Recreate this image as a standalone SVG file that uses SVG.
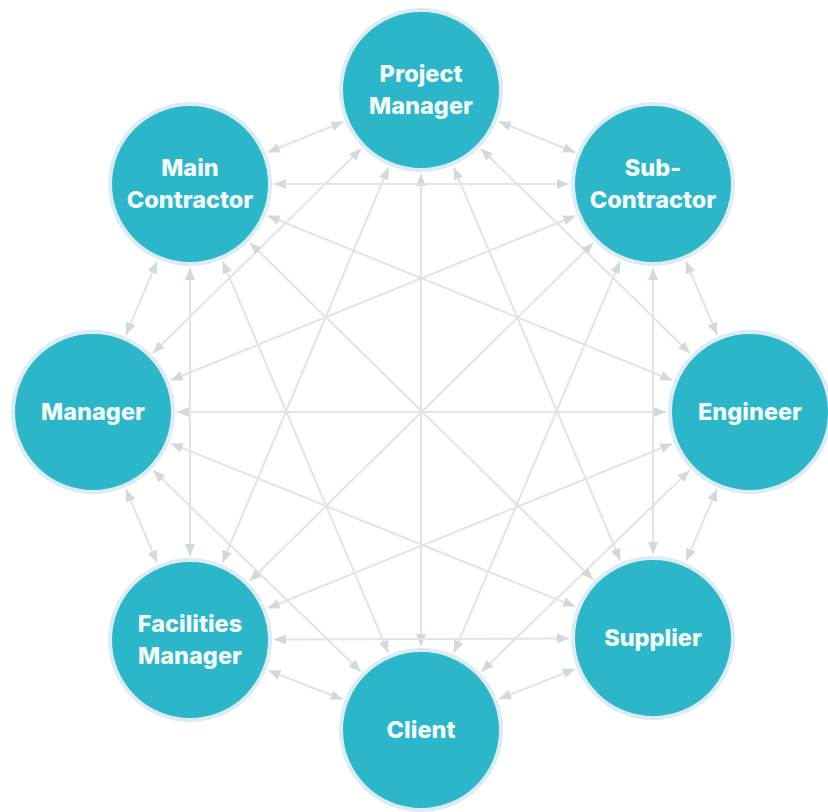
<svg xmlns="http://www.w3.org/2000/svg" width="828" height="812" viewBox="0 0 828 812">
<style>
.edge{stroke:#e0e3e9;stroke-width:2;fill:none;marker-start:url(#ah);marker-end:url(#ah)}
.node circle{fill:#2cb6ca;stroke:#dcecf2;stroke-width:4}
.node text{font-family:Inter,"Liberation Sans",sans-serif;font-weight:800;font-size:23.5px;fill:#f2fcfd;text-anchor:middle}
</style>
<defs>
<marker id="ah" viewBox="0 0 12 10" refX="12" refY="5" markerWidth="12" markerHeight="10" markerUnits="userSpaceOnUse" orient="auto-start-reverse">
<path d="M0,0 L12,5 L0,10 z" fill="#d3d7de"/>
</marker>
</defs>
<rect width="828" height="812" fill="#ffffff"/>
<g id="connectors">
<line class="edge" x1="498.9" y1="121.5" x2="575.1" y2="152.5"/>
<line class="edge" x1="481" y1="148.7" x2="690" y2="353.3"/>
<line class="edge" x1="453.7" y1="167.4" x2="620.3" y2="560.6"/>
<line class="edge" x1="421" y1="174" x2="421" y2="646"/>
<line class="edge" x1="388.5" y1="167.5" x2="222.5" y2="562.5"/>
<line class="edge" x1="361.1" y1="148.9" x2="152.9" y2="353.1"/>
<line class="edge" x1="343.2" y1="121.7" x2="267.8" y2="152.3"/>
<line class="edge" x1="685.9" y1="261.3" x2="717.1" y2="334.7"/>
<line class="edge" x1="653" y1="268" x2="653" y2="554"/>
<line class="edge" x1="620.1" y1="261.3" x2="453.9" y2="652.7"/>
<line class="edge" x1="593.2" y1="242.9" x2="249.8" y2="581.1"/>
<line class="edge" x1="575.2" y1="215.7" x2="170.8" y2="380.3"/>
<line class="edge" x1="569" y1="184" x2="274" y2="184"/>
<line class="edge" x1="716.9" y1="489.2" x2="686.1" y2="560.8"/>
<line class="edge" x1="689.6" y1="470.4" x2="481.4" y2="671.6"/>
<line class="edge" x1="672.2" y1="443.7" x2="267.8" y2="608.3"/>
<line class="edge" x1="666" y1="412" x2="177" y2="412"/>
<line class="edge" x1="672.2" y1="380.3" x2="267.8" y2="215.7"/>
<line class="edge" x1="574.9" y1="669" x2="499.1" y2="699"/>
<line class="edge" x1="569" y1="638.4" x2="274" y2="639.6"/>
<line class="edge" x1="575.1" y1="606.6" x2="170.9" y2="443.4"/>
<line class="edge" x1="593" y1="579.2" x2="250" y2="242.8"/>
<line class="edge" x1="342.7" y1="699.5" x2="268.3" y2="670.5"/>
<line class="edge" x1="360.7" y1="671.5" x2="153.3" y2="470.5"/>
<line class="edge" x1="388.3" y1="652.6" x2="222.7" y2="261.4"/>
<line class="edge" x1="157.1" y1="562.7" x2="125.9" y2="489.3"/>
<line class="edge" x1="190" y1="556" x2="190" y2="268"/>
<line class="edge" x1="125.9" y1="334.7" x2="157.1" y2="261.3"/>
</g>
<g id="project-manager" class="node"><circle cx="421" cy="90" r="80"/><text x="421" y="82">Project</text><text x="421" y="114">Manager</text></g>
<g id="sub-contractor" class="node"><circle cx="653" cy="184" r="80"/><text x="653" y="176">Sub-</text><text x="653" y="208">Contractor</text></g>
<g id="engineer" class="node"><circle cx="750" cy="412" r="80"/><text x="750" y="420">Engineer</text></g>
<g id="supplier" class="node"><circle cx="653" cy="638" r="80"/><text x="653" y="646">Supplier</text></g>
<g id="client" class="node"><circle cx="421" cy="730" r="80"/><text x="421" y="738">Client</text></g>
<g id="facilities-manager" class="node"><circle cx="190" cy="640" r="80"/><text x="190" y="632">Facilities</text><text x="190" y="664">Manager</text></g>
<g id="manager" class="node"><circle cx="93" cy="412" r="80"/><text x="93" y="420">Manager</text></g>
<g id="main-contractor" class="node"><circle cx="190" cy="184" r="80"/><text x="190" y="176">Main</text><text x="190" y="208">Contractor</text></g>
</svg>
